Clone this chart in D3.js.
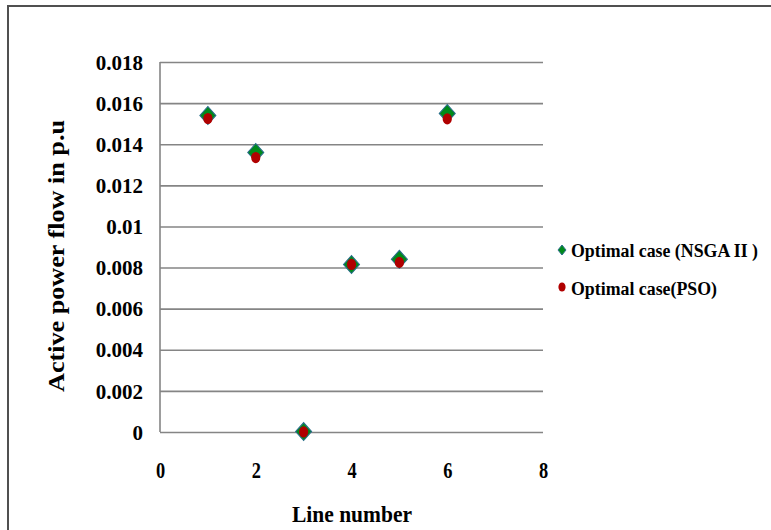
<!DOCTYPE html>
<html>
<head>
<meta charset="utf-8">
<script src="https://cdn.jsdelivr.net/npm/d3@7/dist/d3.min.js"></script>
<style>
  html, body { margin: 0; padding: 0; background: #fff; }
  svg { display: block; }
</style>
</head>
<body>
<script>
// Line numbers and active power flow (p.u) for both optimisers
const lineNumbers = [1, 2, 3, 4, 5, 6];
const nsgaValues  = [0.0154, 0.0136, 0.00002, 0.00815, 0.0084, 0.0155];
const psoValues   = [0.0153, 0.0134, 0.00005, 0.0082, 0.0083, 0.01528];
const seriesNames = ["Optimal case (NSGA II )", "Optimal case(PSO)"];
const yTickValues = [0, 0.002, 0.004, 0.006, 0.008, 0.01, 0.012, 0.014, 0.016, 0.018];
const yTickLabels = ["0", "0.002", "0.004", "0.006", "0.008", "0.01", "0.012", "0.014", "0.016", "0.018"];
const xTickValues = [0, 2, 4, 6, 8];
const xTickLabels = ["0", "2", "4", "6", "8"];

const SERIF = "'Liberation Serif', 'Times New Roman', Times, serif";
const W = 771, H = 530;
const plot = { left: 160, right: 543, top: 62, bottom: 432 };

const svg = d3.select("body").append("svg").attr("width", W).attr("height", H);

// Chart frame (runs off the right and bottom edges)
svg.append("rect")
  .attr("x", 8).attr("y", 6).attr("width", 900).attr("height", 700)
  .attr("fill", "none").attr("stroke", "#505050").attr("stroke-width", 2);

const x = d3.scaleLinear().domain([0, 8]).range([plot.left, plot.right]);
const y = d3.scaleLinear().domain([0, 0.018]).range([plot.bottom, plot.top]);

// Horizontal gridlines
const grid = svg.append("g")
  .attr("transform", `translate(${plot.left},0)`)
  .call(d3.axisLeft(y).tickValues(yTickValues).tickSize(-(plot.right - plot.left)).tickFormat(""));
grid.select(".domain").remove();
grid.selectAll(".tick line").attr("stroke", "#858585").attr("stroke-width", 1.6);

// Left axis line
svg.append("line")
  .attr("x1", plot.left).attr("x2", plot.left)
  .attr("y1", y(0.018)).attr("y2", y(0))
  .attr("stroke", "#858585").attr("stroke-width", 1.6);

// Y tick labels
const yAxis = svg.append("g")
  .attr("transform", `translate(${plot.left},0)`)
  .call(d3.axisLeft(y).tickValues(yTickValues).tickSize(0).tickPadding(17)
        .tickFormat((d, i) => yTickLabels[i]));
yAxis.attr("font-family", SERIF).attr("font-weight", "bold").attr("font-size", 21);
yAxis.select(".domain").remove();
yAxis.selectAll(".tick text").attr("fill", "#000").attr("dy", "0.34em");

// X tick labels (narrow, tall glyphs)
const xAxis = svg.append("g")
  .attr("transform", `translate(0,${plot.bottom})`)
  .call(d3.axisBottom(x).tickValues(xTickValues).tickSize(0).tickPadding(0)
        .tickFormat((d, i) => xTickLabels[i]));
xAxis.attr("font-family", SERIF).attr("font-weight", "bold").attr("font-size", 23);
xAxis.select(".domain").remove();
xAxis.selectAll(".tick text")
  .attr("fill", "#000")
  .attr("y", 0).attr("dy", 0)
  .attr("transform", "translate(0,46) scale(0.8,1)");

function serifText(sel, size) {
  return sel.attr("font-family", SERIF).attr("font-weight", "bold")
    .attr("font-size", size).attr("fill", "#000");
}

// Axis titles
serifText(svg.append("text"), 24)
  .attr("transform", "translate(352,522)")
  .attr("text-anchor", "middle")
  .attr("textLength", 120).attr("lengthAdjust", "spacingAndGlyphs")
  .text("Line number");

serifText(svg.append("text"), 24)
  .attr("transform", "translate(64,256) rotate(-90)")
  .attr("text-anchor", "middle")
  .attr("textLength", 272).attr("lengthAdjust", "spacingAndGlyphs")
  .text("Active power flow in p.u");

// Markers: diamonds are rotated squares, stretched slightly vertically
const diamond = d3.symbol().type(d3.symbolSquare).size(128);
const nsgaPts = lineNumbers.map((n, i) => ({ n, v: nsgaValues[i] }));
const psoPts = lineNumbers.map((n, i) => ({ n, v: psoValues[i] }));

svg.append("g").selectAll("path").data(nsgaPts).join("path")
  .attr("d", diamond)
  .attr("transform", d => `translate(${x(d.n)},${y(d.v)}) scale(1,1.12) rotate(45)`)
  .attr("fill", "#008a1a").attr("stroke", "#2a6e8c").attr("stroke-width", 1);

svg.append("g").selectAll("ellipse").data(psoPts).join("ellipse")
  .attr("cx", d => x(d.n)).attr("cy", d => y(d.v) + 1)
  .attr("rx", 4.6).attr("ry", 5.6)
  .attr("fill", "#b00000");

// Legend
const legend = svg.append("g");
legend.append("path")
  .attr("d", d3.symbol().type(d3.symbolSquare).size(32))
  .attr("transform", "translate(562,250) scale(1,1.25) rotate(45)")
  .attr("fill", "#008a1a").attr("stroke", "#2a6e8c").attr("stroke-width", 0.8);
legend.append("ellipse")
  .attr("cx", 562).attr("cy", 287).attr("rx", 3.6).attr("ry", 4.6)
  .attr("fill", "#b00000");
serifText(legend.append("text"), 18.5)
  .attr("x", 571).attr("y", 257)
  .attr("textLength", 187).attr("lengthAdjust", "spacingAndGlyphs")
  .text(seriesNames[0]);
serifText(legend.append("text"), 18.5)
  .attr("x", 571).attr("y", 295)
  .attr("textLength", 146).attr("lengthAdjust", "spacingAndGlyphs")
  .text(seriesNames[1]);
</script>
</body>
</html>
